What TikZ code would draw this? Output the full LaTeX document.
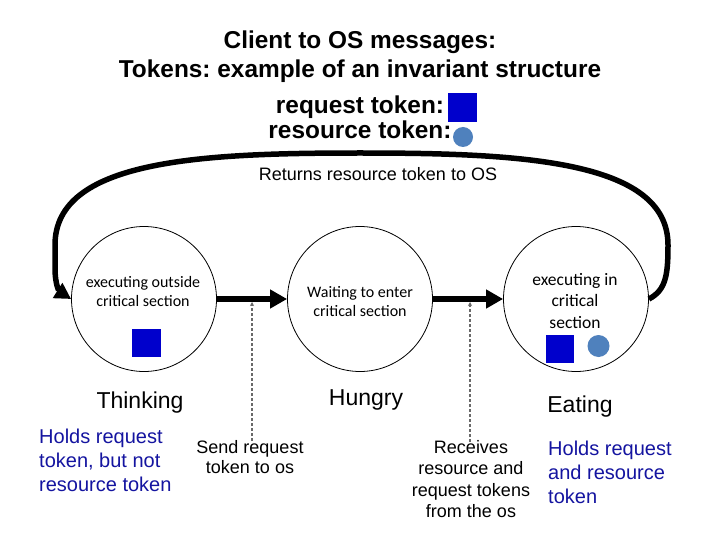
\documentclass[tikz,border=0pt]{standalone}
\usepackage{fontspec}
\setmainfont{Liberation Sans}
\newfontfamily\calib{Carlito}
\usetikzlibrary{arrows.meta}
\definecolor{tokblue}{RGB}{0,0,204}
\definecolor{resblue}{RGB}{79,129,189}
\definecolor{noteblue}{RGB}{20,20,160}
\definecolor{dashgray}{RGB}{105,105,105}
\frenchspacing
\begin{document}
\begin{tikzpicture}[x=1pt,y=-1pt,
  state/.style={circle, draw=black, line width=0.8pt, minimum size=145pt, inner sep=0pt},
  intext/.style={font=\calib\fontsize{16}{19.5}\selectfont, align=center, inner sep=0pt, anchor=north},
  bigintext/.style={font=\calib\fontsize{17.5}{21.5}\selectfont, align=center, inner sep=0pt, anchor=north},
  statename/.style={font=\fontsize{23}{27}\selectfont, inner sep=0pt, anchor=base},
  note/.style={font=\fontsize{20}{24}\selectfont, text=noteblue, align=left, inner sep=0pt, anchor=north west},
  msg/.style={font=\fontsize{18}{21}\selectfont, align=center, inner sep=0pt, anchor=north},
  titletext/.style={font=\bfseries\fontsize{24.4}{29}\selectfont, align=center, inner sep=0pt},
  reqtok/.style={rectangle, fill=tokblue, inner sep=0pt},
  restok/.style={circle, fill=resblue, inner sep=0pt},
  flow/.style={line width=6pt, -{Triangle[length=17pt,width=18pt]}},
  loopline/.style={line width=5.5pt, -{Triangle[length=16pt,width=17pt]}},
  dashline/.style={draw=dashgray, line width=1.1pt, dash pattern=on 3pt off 2pt, -{Stealth[length=4pt,width=4pt]}}
]
\useasboundingbox[fill=white] (0,0) rectangle (720,540);

% title
\node[titletext, anchor=north] (title) at (360,30.3) {Client to OS messages:\\Tokens: example of an invariant structure};
\node[titletext, anchor=base] (reqlbl) at (360,114) {request token:};
\node[reqtok, minimum width=29pt, minimum height=29pt] (reqsq) at (462.5,107.5) {};
\node[titletext, anchor=base] (reslbl) at (360,139) {resource token:};
\node[restok, minimum size=20pt] (rescirc) at (463,137) {};

% states
\node[state] (think) at (144,299) {};
\node[state] (hung) at (360,299) {};
\node[state] (eat) at (576,299) {};

\node[intext] (thinktxt) at (143,276) {executing outside\\critical section};
\node[intext] (hungtxt) at (360,286) {Waiting to enter\\critical section};
\node[bigintext] (eattxt) at (575,273) {executing in\\critical\\section};

\node[reqtok, minimum width=29pt, minimum height=28pt] (thinksq) at (146.5,343) {};
\node[reqtok, minimum width=28pt, minimum height=28pt] (eatsq) at (560,349) {};
\node[restok, minimum size=22pt] (eatcirc) at (598.5,346) {};

% arrows
\draw[flow] (think.east) -- (hung.west);
\draw[flow] (hung.east) -- (eat.west);
\draw[loopline] (eat.east) .. controls (666,290) and (668,275) .. (668,245)
   .. controls (668,160) and (520,153) .. (360,153)
   .. controls (200,153) and (55,160) .. (55,245)
   -- (55,268) .. controls (55,286) and (60,292) .. (think.west);
\node[font=\fontsize{18}{21}\selectfont, inner sep=0pt, anchor=base] (returns) at (378,181) {Returns resource token to OS};

% state names
\node[statename] (thinkname) at (140,408) {Thinking};
\node[statename] (hungname) at (366,405) {Hungry};
\node[statename] (eatname) at (580,412) {Eating};

% notes
\node[note] (thinknote) at (39,428.6) {Holds request\\token, but not\\resource token};
\node[note] (eatnote) at (548,440.6) {Holds request\\and resource\\token};

% messages
\node[msg, font=\fontsize{18}{20.5}\selectfont] (send) at (250,440) {Send request\\token to os};
\node[msg, font=\fontsize{18}{21.5}\selectfont] (recv) at (471,440) {Receives\\resource and\\request tokens\\from the os};
\coordinate (sendbot) at (252,441);
\coordinate (sendtop) at (252,302);
\coordinate (recvbot) at (470,442);
\coordinate (recvtop) at (470,302);
\draw[dashline] (sendbot) -- (sendtop);
\draw[dashline] (recvbot) -- (recvtop);
\end{tikzpicture}
\end{document}
